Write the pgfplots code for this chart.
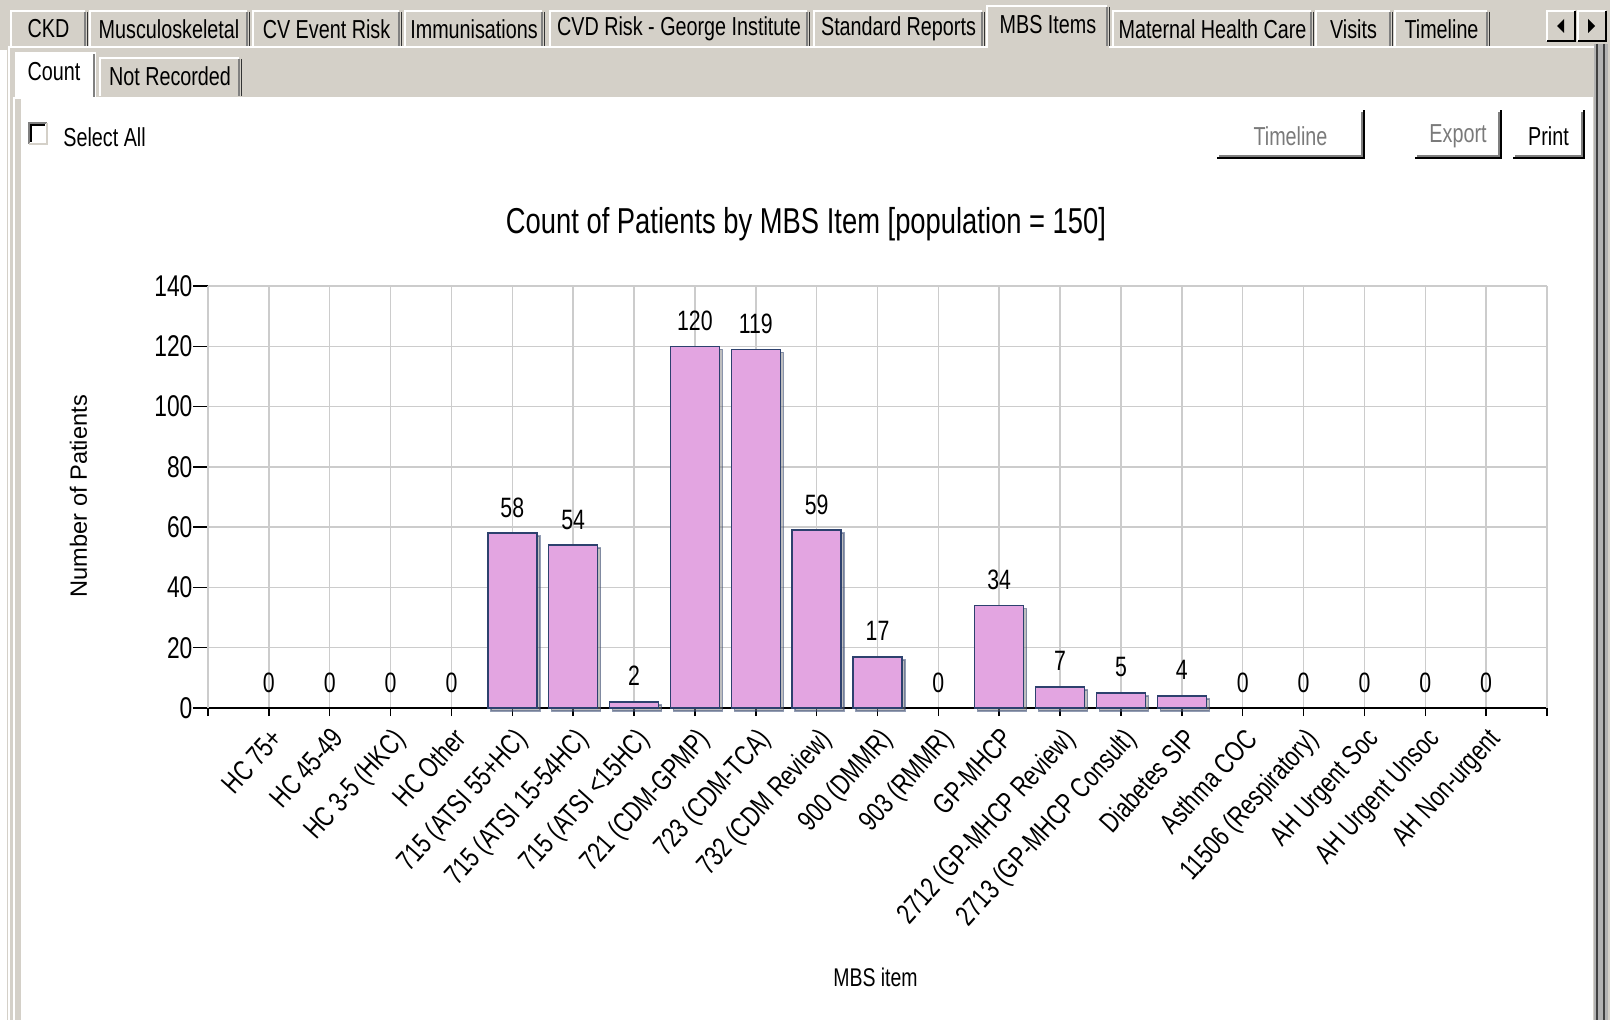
\documentclass[border=0pt]{standalone}
\usepackage{pgfplots}
\pgfplotsset{compat=1.18}
\usepackage{pgfplotstable}
\usepackage{fontspec}
\setmainfont[FakeStretch=0.76]{Liberation Sans}
\newfontfamily\plainsans{Liberation Sans}
\usetikzlibrary{shadows}

\definecolor{winbg}{HTML}{D4D0C8}
\definecolor{winshade}{HTML}{808080}
\definecolor{bararea}{HTML}{E3A5E1}
\definecolor{baredge}{HTML}{2D416E}
\definecolor{gridgray}{HTML}{CCCCCC}
\definecolor{greytext}{HTML}{7A7A7A}

% MBS item counts, one row per category (x = position on the axis)
\pgfplotstableread{
x y
1 0
2 0
3 0
4 0
5 58
6 54
7 2
8 120
9 119
10 59
11 17
12 0
13 34
14 7
15 5
16 4
17 0
18 0
19 0
20 0
21 0
}\mbsdata

\newcommand{\uifont}{\fontsize{13}{15}\selectfont}

% tab: [top y]{x1}{x2}{text}
\newcommand{\tab}[4][10]{%
  \fill[winbg] (#2,#1) rectangle (#3,46);
  \draw[white, line width=1pt] (#2+1,46) -- (#2+1,#1+1) -- (#3-2,#1+1);
  \draw[winshade, line width=1pt] (#3-2,#1+2) -- (#3-2,46);
  \draw[black!80, line width=0.5pt] (#3,#1+2) -- (#3,46);
  \node[font=\uifont, inner sep=0pt] at ({(#2+#3)/2},29) {#4};
}
% button: {x1}{y1}{x2}{y2}{text}{text colour}
\newcommand{\button}[6]{%
  \draw[black, line width=1pt] (#1,#4) -- (#3,#4) -- (#3,#2);
  \draw[winshade, line width=1pt] (#1+2,#4-2) -- (#3-2,#4-2) -- (#3-2,#2+2);
  \node[font=\uifont, text=#6] at ({(#1+#3)/2},136) {#5};
}

\begin{document}
\begin{tikzpicture}
\useasboundingbox (0,0) rectangle (805pt,-510pt);
\begin{scope}[x=0.5pt,y=-0.5pt]
  \fill[winbg] (0,0) rectangle (1610,1020);
  % outer tab page
  \fill[white] (0,50) rectangle (7,1020);
  \draw[white, line width=1pt] (9,1020) -- (9,47) -- (1594,47);
  \fill[white] (13,97) rectangle (15,1020);
  \fill[white] (21,97) rectangle (1593,1020);
  \fill[gray!60] (1594,44) rectangle (1608,1020);
  \draw[black!75, line width=1pt] (1597,44) -- (1597,1020);
  \draw[black!75, line width=1pt] (1604,44) -- (1604,1020);
  % top tabs
  \tab{10}{87}{CKD}
  \tab{89}{249}{Musculoskeletal}
  \tab{252}{401}{CV Event Risk}
  \tab{404}{544}{Immunisations}
  \tab{549}{809}{CVD Risk - George Institute}
  \tab{813}{984}{Standard Reports}
  \tab{1112}{1313}{Maternal Health Care}
  \tab{1315}{1392}{Visits}
  \tab{1394}{1489}{Timeline}
  % selected tab
  \fill[winbg] (986,5) rectangle (1109,48);
  \draw[white, line width=1pt] (987,48) -- (987,6) -- (1107,6);
  \draw[winshade, line width=1pt] (1107,7) -- (1107,46);
  \draw[black!80, line width=0.5pt] (1109,7) -- (1109,46);
  \node[font=\uifont, inner sep=0pt] at (1048,25) {MBS Items};
  % scroll arrows
  \foreach \a in {1546,1577}{
    \fill[winbg] (\a,10) rectangle (\a+30,42);
    \draw[white, line width=1pt] (\a+1,41) -- (\a+1,11) -- (\a+29,11);
    \draw[black, line width=1pt] (\a+1,41) -- (\a+29,41) -- (\a+29,11);
  }
  \fill[black] (1557,26) -- (1564,19) -- (1564,33) -- cycle;
  \fill[black] (1595,26) -- (1588,19) -- (1588,33) -- cycle;
  % sub tabs
  \fill[white] (15,52) rectangle (96,99);
  \draw[white, line width=1pt] (16,99) -- (16,53) -- (94,53);
  \draw[winshade, line width=1pt] (94,54) -- (94,97);
  \node[font=\uifont, inner sep=0pt] at (54,72) {Count};
  \fill[winbg] (99,57) rectangle (241,96);
  \draw[white, line width=1pt] (100,96) -- (100,58) -- (239,58);
  \draw[winshade, line width=1pt] (239,59) -- (239,96);
  \draw[black!80, line width=0.5pt] (241,59) -- (241,96);
  \node[font=\uifont, inner sep=0pt] at (170,76) {Not Recorded};
  % select all
  \fill[white] (29,123) rectangle (47,144);
  \draw[winshade, line width=1pt] (29,144) -- (29,123) -- (47,123);
  \draw[black, line width=0.6pt] (31,142) -- (31,125) -- (45,125);
  \draw[winbg, line width=1pt] (29,144) -- (47,144) -- (47,123);
  \node[font=\uifont, anchor=west, inner sep=0pt] at (63,137) {Select All};
  % buttons
  \button{1217}{110}{1364}{158}{Timeline}{greytext}
  \button{1415}{110}{1501}{158}{Export}{greytext}
  \button{1513}{110}{1584}{158}{Print}{black}
\end{scope}

\begin{axis}[
  at={(104pt,-354pt)}, anchor=south west,
  scale only axis, width=669.5pt, height=211pt,
  xmin=0, xmax=22, ymin=0, ymax=140,
  clip=false,
  axis lines=left,
  axis line style={-, black, line width=0.75pt},
  xtick={1,...,21},
  xticklabels={HC 75+, HC 45-49, HC 3-5 (HKC), HC Other, 715 (ATSI 55+HC),
    715 (ATSI 15-54HC), 715 (ATSI <15HC), 721 (CDM-GPMP), 723 (CDM-TCA),
    732 (CDM Review), 900 (DMMR), 903 (RMMR), GP-MHCP, 2712 (GP-MHCP Review),
    2713 (GP-MHCP Consult), Diabetes SIP, Asthma COC, 11506 (Respiratory),
    AH Urgent Soc, AH Urgent Unsoc, AH Non-urgent},
  extra x ticks={0,22},
  extra x tick labels={},
  extra x tick style={grid=major, /pgfplots/major tick length=4pt},
  ytick={0,20,...,140},
  grid=major,
  major grid style={gridgray, line width=0.75pt},
  tick align=outside,
  tick style={black, line width=0.75pt},
  xtick style={/pgfplots/major tick length=4pt},
  ytick style={/pgfplots/major tick length=7.5pt},
  /pgf/number format/assume math mode=true,
  yticklabel style={font=\fontsize{15}{17}\selectfont},
  xticklabel style={rotate=48, anchor=north east, font=\fontsize{14.3}{16}\selectfont},
  title={Count of Patients by MBS Item [population = 150]},
  title style={at={(axis description cs:0.4466,1.097)}, anchor=base,
    font=\fontsize{18}{20}\selectfont},
  xlabel={MBS item},
  xlabel style={at={(axis description cs:0.4985,-0.6611)}, anchor=base,
    font=\fontsize{12.8}{15}\selectfont},
  ylabel={Number of Patients},
  ylabel style={at={(axis description cs:-0.0968,0.502)}, anchor=center,
    font=\plainsans\fontsize{11.8}{14}\selectfont},
]
\addplot[ybar, bar width=24.5pt, fill=bararea, draw=baredge, line width=0.75pt,
  restrict y to domain=0.5:200,
  drop shadow={shadow xshift=1.5pt, shadow yshift=-1.5pt, opacity=0.5}]
  table[x=x, y=y] {\mbsdata};
\addplot[draw=none, mark=none, nodes near coords,
  every node near coord/.append style={anchor=base, inner sep=0pt, yshift=8pt,
    font=\fontsize{14}{16}\selectfont, text=black}]
  table[x=x, y=y] {\mbsdata};
\end{axis}
\end{tikzpicture}
\end{document}
